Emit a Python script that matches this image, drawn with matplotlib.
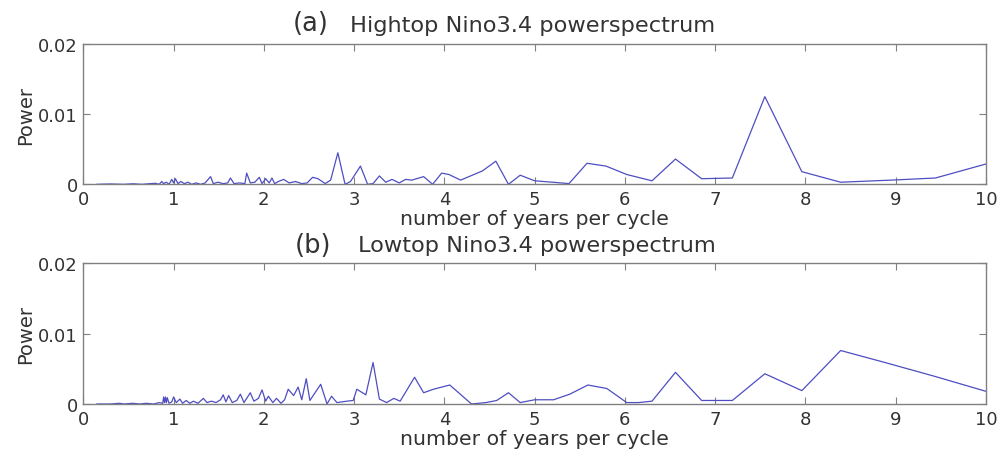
import matplotlib
matplotlib.use("Agg")
import matplotlib.pyplot as plt

# periods (years per cycle) and power
hightop_period = [0.15, 0.30, 0.45, 0.55, 0.65, 0.74, 0.80, 0.84, 0.87, 0.89, 0.92, 0.95,
                  0.98, 1.00, 1.02, 1.05, 1.08, 1.12, 1.16, 1.20, 1.25, 1.30, 1.35, 1.41,
                  1.44, 1.49, 1.55, 1.60, 1.63, 1.67, 1.73, 1.79, 1.81, 1.85, 1.90, 1.95,
                  1.98, 2.02, 2.06, 2.09, 2.12, 2.16, 2.22, 2.28, 2.35, 2.42, 2.48, 2.54,
                  2.60, 2.68, 2.74, 2.82, 2.90, 2.96, 3.07, 3.15, 3.21, 3.28, 3.35, 3.42,
                  3.50, 3.57, 3.64, 3.77, 3.87, 3.97, 4.05, 4.18, 4.42, 4.57, 4.71, 4.84,
                  5.00, 5.20, 5.38, 5.58, 5.79, 6.02, 6.30, 6.56, 6.85, 7.19, 7.55, 7.96,
                  8.39, 8.95, 9.44, 10.0]
hightop_power = [0.0, 0.00005, 0.0, 0.00008, 0.0, 0.0001, 0.00015, 0.0, 0.0004, 0.0001, 0.0003, 0.0,
                 0.0007, 0.0002, 0.0008, 0.0001, 0.0004, 0.0001, 0.0003, 0.0, 0.0002, 0.0, 0.0002, 0.0011,
                 0.0001, 0.0003, 0.0001, 0.0002, 0.0009, 0.0001, 0.0002, 0.0001, 0.0016, 0.0002, 0.0003, 0.0010,
                 0.0001, 0.0008, 0.0002, 0.0009, 0.0001, 0.0004, 0.0007, 0.0002, 0.0004, 0.0001, 0.0002, 0.0010,
                 0.0008, 0.0001, 0.0006, 0.0045, 0.0, 0.0004, 0.0026, 0.0, 0.0001, 0.0012, 0.0003, 0.0007,
                 0.0002, 0.0007, 0.0006, 0.0011, 0.0, 0.0016, 0.0014, 0.0006, 0.0019, 0.0033, 0.0, 0.0013,
                 0.0005, 0.0003, 0.0001, 0.0030, 0.0026, 0.0014, 0.0005, 0.0036, 0.0008, 0.0009, 0.0125, 0.0018,
                 0.0003, 0.0006, 0.0009, 0.0029]

lowtop_period = [0.15, 0.30, 0.40, 0.45, 0.55, 0.62, 0.70, 0.78, 0.84, 0.88, 0.89, 0.90,
                 0.91, 0.92, 0.93, 0.95, 0.98, 1.00, 1.03, 1.07, 1.10, 1.14, 1.18, 1.22,
                 1.27, 1.33, 1.37, 1.42, 1.47, 1.52, 1.55, 1.58, 1.61, 1.65, 1.70, 1.74,
                 1.78, 1.85, 1.89, 1.94, 1.98, 2.02, 2.05, 2.10, 2.14, 2.19, 2.23, 2.27,
                 2.33, 2.38, 2.42, 2.47, 2.51, 2.63, 2.70, 2.75, 2.81, 2.92, 2.99, 3.03,
                 3.13, 3.21, 3.28, 3.36, 3.44, 3.51, 3.67, 3.77, 3.88, 4.06, 4.30, 4.46,
                 4.58, 4.71, 4.84, 5.00, 5.21, 5.39, 5.59, 5.80, 6.02, 6.15, 6.30, 6.56,
                 6.85, 7.19, 7.55, 7.96, 8.39, 8.88, 9.44, 10.0]
lowtop_power = [0.0, 0.0, 0.0001, 0.0, 0.0001, 0.0, 0.0001, 0.0, 0.0002, 0.0001, 0.0010, 0.0002,
                0.0010, 0.0002, 0.0009, 0.0001, 0.0003, 0.0010, 0.0002, 0.0007, 0.0001, 0.0005, 0.0001, 0.0004,
                0.0001, 0.0008, 0.0002, 0.0004, 0.0002, 0.0006, 0.0013, 0.0003, 0.0012, 0.0002, 0.0005, 0.0014,
                0.0002, 0.0016, 0.0004, 0.0008, 0.0020, 0.0004, 0.0011, 0.0002, 0.0008, 0.0001, 0.0006, 0.0021,
                0.0012, 0.0024, 0.0006, 0.0036, 0.0005, 0.0028, 0.0, 0.0011, 0.0002, 0.0004, 0.0005, 0.0021,
                0.0013, 0.0059, 0.0007, 0.0002, 0.0008, 0.0004, 0.0038, 0.0016, 0.0021, 0.0027, 0.0, 0.0002,
                0.0005, 0.0016, 0.0002, 0.0006, 0.0006, 0.0014, 0.0027, 0.0022, 0.0002, 0.0002, 0.0004, 0.0045,
                0.0005, 0.0005, 0.0043, 0.0019, 0.0076, 0.0059, 0.0039, 0.0018]

x_ticks = [0, 1, 2, 3, 4, 5, 6, 7, 8, 9, 10]
y_ticks = [0, 0.01, 0.02]
y_ticklabels = ["0", "0.01", "0.02"]

plt.rcParams['font.family'] = ['DejaVu Sans']
text_color = '#333333'
line_color = '#4e4ec2'
edge_color = '#808080'

fig = plt.figure(figsize=(10, 4.52), dpi=100)
ax1 = fig.add_axes([0.0833, 0.590, 0.9027, 0.3104])
ax2 = fig.add_axes([0.0833, 0.104, 0.9027, 0.3113])

panels = [(ax1, hightop_period, hightop_power), (ax2, lowtop_period, lowtop_power)]
for ax, per, pw in panels:
    ax.plot(per, pw, '-', lw=0.9, c=line_color)
    ax.set_xlim(0, 10)
    ax.set_ylim(0, 0.02)
    ax.set_xticks(x_ticks)
    ax.set_yticks(y_ticks)
    ax.set_yticklabels(y_ticklabels)
    ax.tick_params(direction='in', length=5, width=0.8, color=edge_color,
                   top=True, right=True, labelsize=13, labelcolor=text_color, pad=4)
    for s in ax.spines.values():
        s.set_color(edge_color)
        s.set_linewidth(1.0)
    ax.set_xlabel('number of years per cycle', fontsize=14.7, color=text_color, labelpad=1)
    ax.set_ylabel('Power', fontsize=14, color=text_color, labelpad=2)

# panel titles: bigger (a)/(b) followed by the name
fig.text(0.311, 1 - 24 / 452, '(a)', fontsize=18.5, color=text_color, ha='center', va='center')
fig.text(0.350, 1 - 32 / 452, 'Hightop Nino3.4 powerspectrum', fontsize=16.2, color=text_color,
         ha='left', va='baseline')
fig.text(0.313, 1 - 246 / 452, '(b)', fontsize=18.5, color=text_color, ha='center', va='center')
fig.text(0.358, 1 - 252 / 452, 'Lowtop Nino3.4 powerspectrum', fontsize=16.2, color=text_color,
         ha='left', va='baseline')

fig.savefig('out.png', dpi=100)
